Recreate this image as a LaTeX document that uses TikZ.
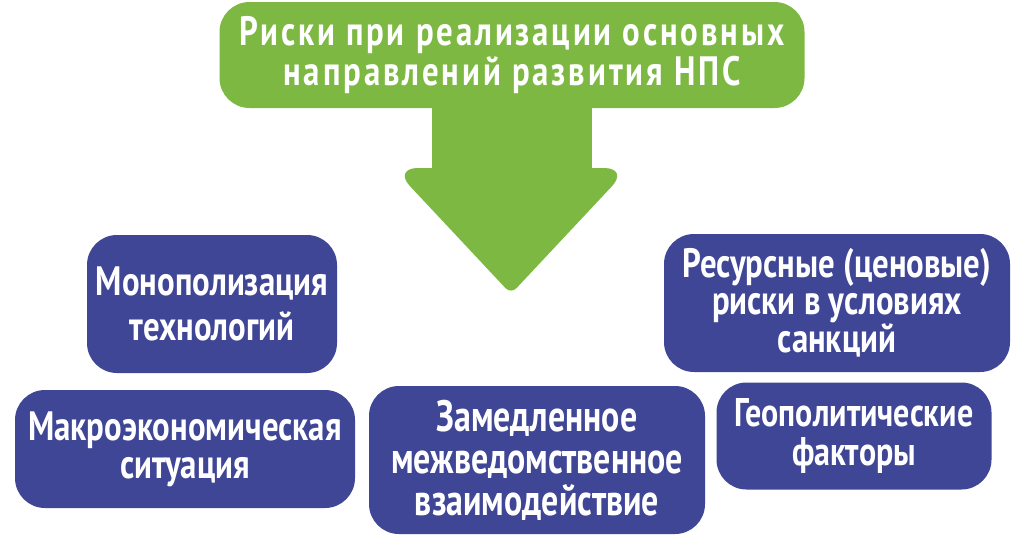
\documentclass[tikz,border=0pt]{standalone}
\usepackage{fontspec}
\setmainfont{PT Sans}[FakeStretch=0.8]
\newfontfamily\titlefont{PT Sans}[FakeStretch=0.8, LetterSpace=7]
\definecolor{riskgreen}{RGB}{125, 185, 66}
\definecolor{riskblue}{RGB}{63, 70, 150}
\usetikzlibrary{positioning, calc}

\tikzset{
  riskbox/.style={fill=riskblue, text=white, rounded corners=30pt, align=center, inner sep=0pt,
    font=\fontsize{41}{38}\selectfont\bfseries},
}

\begin{document}
\begin{tikzpicture}[x=1pt, y=-1pt]
  \useasboundingbox[fill=white] (0,0) rectangle (1024,541);
  % arrow from the title down
  \fill[riskgreen] (432,90) rectangle (592,176);
  \fill[riskgreen, rounded corners=25pt] (393,168) -- (629,168) [rounded corners=8pt] -- (511,294) [rounded corners=25pt] -- cycle;
  \node[riskbox, fill=riskgreen, minimum width=585pt, minimum height=106pt, font=\titlefont\fontsize{41}{40}\selectfont\bfseries] (title) at (512,55)
    {Риски при реализации основных\\направлений развития НПС};
  % risks
  \node[riskbox, minimum width=250pt, minimum height=138pt, font=\fontsize{41}{45}\selectfont\bfseries] (monopoly) at (212,304) {Монополизация\\технологий};
  \node[riskbox, minimum width=340pt, minimum height=118pt] (macro) at (185,449) {Макроэкономическая\\ситуация};
  \node[riskbox, minimum width=336pt, minimum height=148pt, font=\fontsize{44}{42}\selectfont\bfseries\addfontfeatures{FakeStretch=0.77}] (slow) at (537,460) {Замедленное\\межведомственное\\взаимодействие};
  \node[riskbox, minimum width=346pt, minimum height=138pt, font=\fontsize{41}{37}\selectfont\bfseries] (resource) at (837,303) {Ресурсные (ценовые)\\риски в условиях\\санкций};
  \node[riskbox, minimum width=275pt, minimum height=107pt, font=\fontsize{40}{39}\selectfont\bfseries] (geo) at (854,436) {Геополитические\\факторы};
\end{tikzpicture}
\end{document}
